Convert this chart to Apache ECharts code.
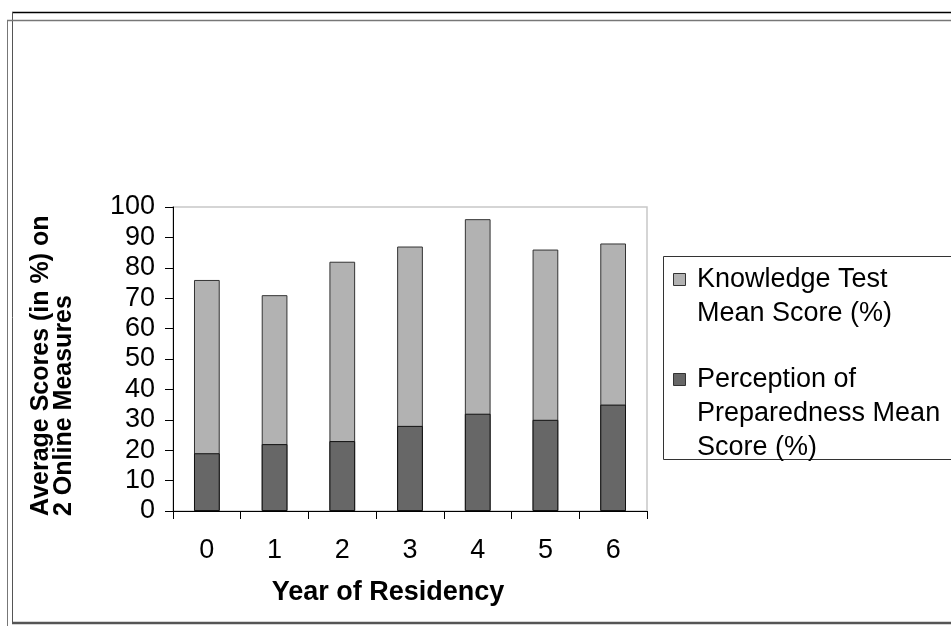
<!DOCTYPE html>
<html>
<head>
<meta charset="utf-8">
<script src="https://cdn.jsdelivr.net/npm/echarts@6/dist/echarts.min.js"></script>
<style>
html,body{margin:0;padding:0;background:#fff;}
#chart{width:951px;height:626px;}
</style>
</head>
<body>
<div id="chart"></div>
<script>
// ---- data ----
var categories = ['0', '1', '2', '3', '4', '5', '6'];
var knowledgeTotal = [76, 71, 82, 87, 96, 86, 88];      // top of light bar (%)
var perception = [19, 22, 23, 28, 32, 30, 35];          // dark bar (%)
var seriesNames = ['Knowledge Test Mean Score (%)', 'Perception of Preparedness Mean Score (%)'];
var legendLines = [['Knowledge Test', 'Mean Score (%)'], ['Perception of', 'Preparedness Mean', 'Score (%)']];
var yTitleLines = ['Average Scores (in %) on', '2 Online Measures'];
var xTitle = 'Year of Residency';

var FONT = '"Liberation Sans", Arial, sans-serif';
var LIGHT = '#b2b2b2', DARK = '#676767';

var chart = echarts.init(document.getElementById('chart'), null, {renderer: 'canvas'});

var gLeft = 173, gTop = 207, gRight = 951 - 647, gBottom = 626 - 511;

var graphics = [
  // outer frame lines
  {type: 'line', shape: {x1: 12, y1: 12.5, x2: 951, y2: 12.5}, style: {stroke: '#000', lineWidth: 1.5}},
  {type: 'line', shape: {x1: 12.5, y1: 12, x2: 12.5, y2: 623}, style: {stroke: '#555', lineWidth: 1}},
  {type: 'line', shape: {x1: 7, y1: 20.5, x2: 951, y2: 20.5}, style: {stroke: '#777', lineWidth: 1.5}},
  {type: 'line', shape: {x1: 7.5, y1: 20, x2: 7.5, y2: 626}, style: {stroke: '#777', lineWidth: 1}},
  {type: 'line', shape: {x1: 12, y1: 623, x2: 951, y2: 623}, style: {stroke: '#555', lineWidth: 2.5}},
  // y title
  {type: 'text', x: 53, y: 516, rotation: Math.PI / 2,
   style: {text: yTitleLines.join('\n'), font: 'bold 25px ' + FONT, fill: '#000',
           align: 'left', verticalAlign: 'middle', lineHeight: 23}},
  // x title
  {type: 'text', x: 388, y: 593,
   style: {text: xTitle, font: 'bold 27px ' + FONT, fill: '#000', align: 'center', verticalAlign: 'middle'}},
  // legend box
  {type: 'rect', shape: {x: 663.5, y: 256.5, width: 300, height: 203}, style: {fill: '#fff', stroke: '#333', lineWidth: 1}}
];
// legend entries
var legendColors = [LIGHT, DARK];
var legendFirstLine = [280, 380];
var LH = 34;
for (var i = 0; i < legendLines.length; i++) {
  graphics.push({type: 'rect', shape: {x: 673.5, y: legendFirstLine[i] - 6.5, width: 12, height: 12},
                 style: {fill: legendColors[i], stroke: '#333', lineWidth: 1}});
  graphics.push({type: 'text', x: 697, y: legendFirstLine[i] - LH / 2,
                 style: {text: legendLines[i].join('\n'), font: '27px ' + FONT, fill: '#000',
                         align: 'left', verticalAlign: 'top', lineHeight: LH}});
}

var option = {
  animation: false,
  backgroundColor: '#fff',
  grid: {left: gLeft, top: gTop, right: gRight, bottom: gBottom, show: true,
         borderColor: '#c8c8c8', borderWidth: 1.5, backgroundColor: 'transparent'},
  xAxis: {
    type: 'category', data: categories, boundaryGap: true,
    axisLine: {lineStyle: {color: '#000', width: 1}},
    axisTick: {show: true, length: 8, alignWithLabel: false, lineStyle: {color: '#000'}},
    axisLabel: {color: '#000', fontSize: 27, fontFamily: FONT, margin: 26}
  },
  yAxis: {
    type: 'value', min: 0, max: 100, interval: 10,
    axisLine: {show: true, lineStyle: {color: '#000', width: 1}},
    axisTick: {show: true, length: 8, lineStyle: {color: '#000'}},
    axisLabel: {color: '#000', fontSize: 27, fontFamily: FONT, margin: 18},
    splitLine: {show: false}
  },
  series: [
    {name: seriesNames[0], type: 'bar', data: knowledgeTotal, barWidth: '38%', barGap: '-100%',
     itemStyle: {color: LIGHT, borderColor: '#333', borderWidth: 1}},
    {name: seriesNames[1], type: 'bar', data: perception, barWidth: '38%',
     itemStyle: {color: DARK, borderColor: '#111', borderWidth: 1}}
  ],
  graphic: graphics
};
chart.setOption(option);
</script>
</body>
</html>
